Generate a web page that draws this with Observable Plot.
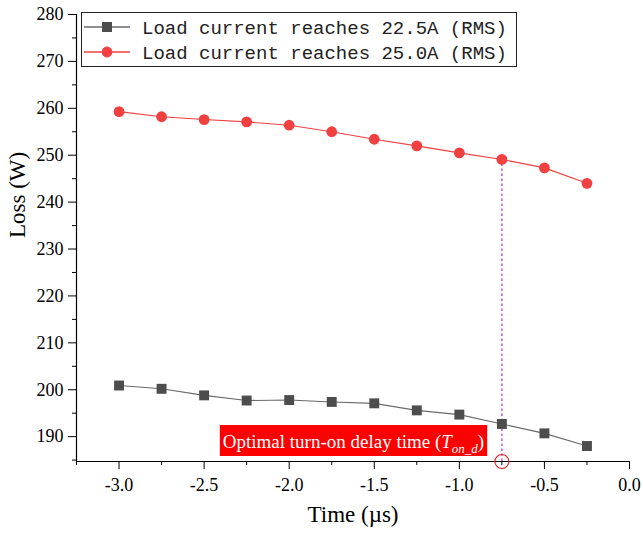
<!DOCTYPE html>
<html>
<head>
<meta charset="utf-8">
<script src="https://cdn.jsdelivr.net/npm/d3@7"></script>
<script src="https://cdn.jsdelivr.net/npm/@observablehq/plot@0.6"></script>
<style>
  html, body { margin: 0; padding: 0; background: #fff; }
  #chart svg { display: block; }
</style>
</head>
<body>
<div id="chart"></div>
<script>
// ---- data ----
const times = [-3.0, -2.75, -2.5, -2.25, -2.0, -1.75, -1.5, -1.25, -1.0, -0.75, -0.5, -0.25];
const loss225 = [200.9, 200.2, 198.8, 197.7, 197.8, 197.4, 197.1, 195.6, 194.7, 192.7, 190.7, 188.0];
const loss250 = [259.3, 258.2, 257.6, 257.1, 256.4, 255.0, 253.4, 252.0, 250.5, 249.1, 247.3, 244.0];
const seriesNames = ["Load current reaches 22.5A (RMS)", "Load current reaches 25.0A (RMS)"];
const xMajorTicks = [-3.0, -2.5, -2.0, -1.5, -1.0, -0.5, 0.0];
const xMinorTicks = [-3.25, -2.75, -2.25, -1.75, -1.25, -0.75, -0.25];
const yMajorTicks = [190, 200, 210, 220, 230, 240, 250, 260, 270, 280];
const yMinorTicks = [185, 195, 205, 215, 225, 235, 245, 255, 265, 275];
const optimalTime = -0.75;
const annotationText = "Optimal turn-on delay time (";
const xDomain = [-3.25, 0];
const yDomain = [184.7, 280];

const colors = ["#4d4d4d", "#f04040"];
const lineColors = ["#6a6a6a", "#f04040"];

const d225 = times.map((t, i) => ({t, v: loss225[i]}));
const d250 = times.map((t, i) => ({t, v: loss250[i]}));
const optY = loss250[times.indexOf(optimalTime)];

const serif = "'Liberation Serif', 'Times New Roman', serif";

const plot = Plot.plot({
  width: 643,
  height: 533,
  marginLeft: 76,
  marginRight: 14,
  marginTop: 14,
  marginBottom: 72,
  style: {fontFamily: serif, background: "#fff", color: "#000"},
  x: {domain: xDomain},
  y: {domain: yDomain},
  marks: [
    Plot.ruleX([xDomain[0]], {stroke: "#000", strokeWidth: 1.2}),
    Plot.ruleY([yDomain[0]], {stroke: "#000", strokeWidth: 1.2}),
    Plot.axisY({ticks: yMajorTicks, tickSize: 8, tickPadding: 5, fontSize: 18, label: null, tickFormat: d => String(d)}),
    Plot.axisY({ticks: yMinorTicks, tickSize: 4, text: null, label: null}),
    Plot.axisX({ticks: xMajorTicks, tickSize: 8, tickPadding: 9, fontSize: 18, label: null, tickFormat: d => d.toFixed(1)}),
    Plot.axisX({ticks: xMinorTicks, tickSize: 4, text: null, label: null}),
    Plot.text(["Time (µs)"], {frameAnchor: "bottom", dy: 60, fontSize: 23, fill: "#000"}),
    Plot.text(["Loss (W)"], {frameAnchor: "left", dx: -59, rotate: -90, fontSize: 23, fill: "#000"}),
    Plot.ruleX([optimalTime], {y1: yDomain[0], y2: optY, stroke: "#c060ee", strokeWidth: 1.6, strokeDasharray: "2.5,2.5"}),
    Plot.line(d225, {x: "t", y: "v", stroke: lineColors[0], strokeWidth: 1.1}),
    Plot.dot(d225, {x: "t", y: "v", symbol: "square", r: 5.6, fill: colors[0], stroke: "none"}),
    Plot.line(d250, {x: "t", y: "v", stroke: lineColors[1], strokeWidth: 1.1}),
    Plot.dot(d250, {x: "t", y: "v", symbol: "circle", r: 5.4, fill: colors[1], stroke: "none"}),
    Plot.dot([{t: optimalTime, v: yDomain[0]}], {x: "t", y: "v", r: 7, fill: "none", stroke: "#e02020", strokeWidth: 1.1})
  ]
});

document.getElementById("chart").appendChild(plot);

const svg = d3.select(plot);

// ---- annotation box ----
const ann = svg.append("g");
const annRect = ann.append("rect").attr("fill", "#ff0000");
const annText = ann.append("text")
  .attr("x", 353.5).attr("y", 447.5)
  .attr("text-anchor", "middle")
  .attr("fill", "#fff")
  .style("font-family", serif)
  .style("font-size", "19px");
annText.append("tspan").text(annotationText);
annText.append("tspan").style("font-style", "italic").text("T");
annText.append("tspan").style("font-style", "italic").style("font-size", "13px").attr("dy", 5).text("on_d");
annText.append("tspan").attr("dy", -5).text(")");
const bb = annText.node().getBBox();
annRect.attr("x", bb.x - 3).attr("y", 425).attr("width", bb.width + 6).attr("height", 31);

// ---- legend ----
const lg = svg.append("g");
lg.append("rect").attr("x", 81.5).attr("y", 12.5).attr("width", 435).attr("height", 54)
  .attr("fill", "#fff").attr("stroke", "#222").attr("stroke-width", 1);
const rowsY = [27, 52];
seriesNames.forEach((name, i) => {
  const y = rowsY[i];
  lg.append("line").attr("x1", 84).attr("x2", 130).attr("y1", y).attr("y2", y)
    .attr("stroke", lineColors[i]).attr("stroke-width", 1.3);
  if (i === 0) {
    lg.append("rect").attr("x", 107 - 5).attr("y", y - 5).attr("width", 10).attr("height", 10).attr("fill", colors[i]);
  } else {
    lg.append("circle").attr("cx", 107).attr("cy", y).attr("r", 5.4).attr("fill", colors[i]);
  }
  lg.append("text").attr("x", 142).attr("y", y + 6.5)
    .attr("text-anchor", "start")
    .attr("fill", "#222")
    .style("font-family", "'Liberation Mono', 'DejaVu Sans Mono', monospace")
    .style("font-size", "19px")
    .text(name);
});
</script>
</body>
</html>
